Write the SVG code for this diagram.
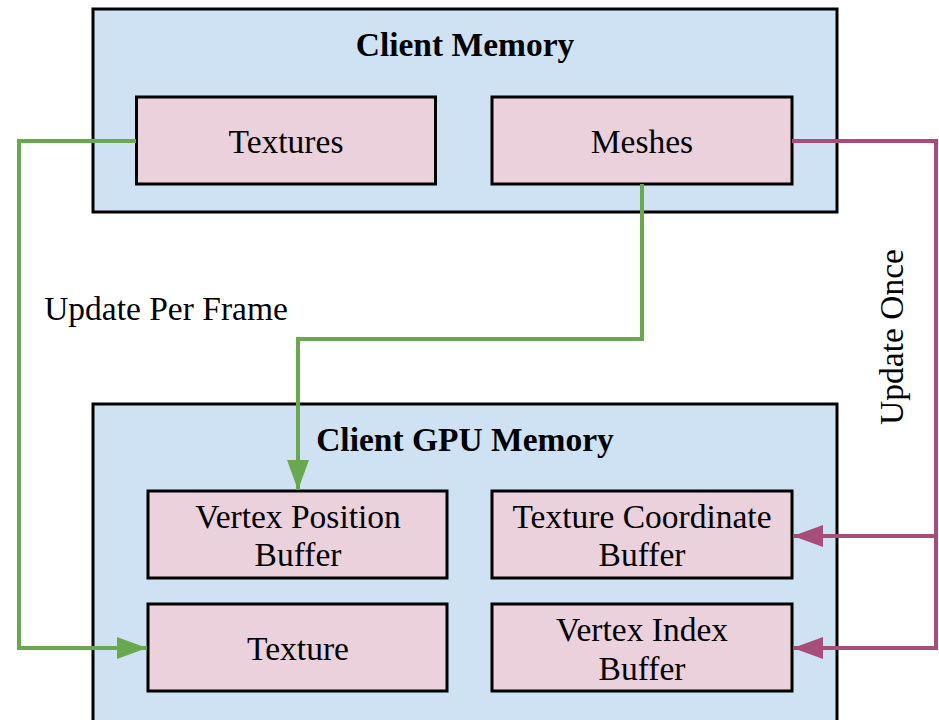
<svg xmlns="http://www.w3.org/2000/svg" width="939" height="720" viewBox="0 0 939 720">
<style>
.outer{fill:#cfe2f3;stroke:#000;stroke-width:3}
.inner{fill:#ead1dc;stroke:#000;stroke-width:3}
text{font-family:"Liberation Serif","Times New Roman",serif;font-size:33.5px;fill:#000;text-anchor:middle}
.b{font-weight:bold}
.g{fill:none;stroke:#6aa84f;stroke-width:4}
.p{fill:none;stroke:#a64d79;stroke-width:4}
</style>
<defs>
<marker id="ag" markerUnits="userSpaceOnUse" markerWidth="32" markerHeight="24" refX="30" refY="11" orient="auto" viewBox="0 0 32 22"><path d="M0,0 L30,11 L0,22 Z" fill="#6aa84f"/></marker>
<marker id="ap" markerUnits="userSpaceOnUse" markerWidth="32" markerHeight="24" refX="30" refY="11" orient="auto" viewBox="0 0 32 22"><path d="M0,0 L30,11 L0,22 Z" fill="#a64d79"/></marker>
</defs>
<g id="client-memory">
<rect class="outer" x="93" y="9" width="744" height="203"/>
<text class="b" x="465" y="56">Client Memory</text>
</g>
<g id="textures">
<rect class="inner" x="136.5" y="97" width="299" height="87"/>
<text x="286" y="153">Textures</text>
</g>
<g id="meshes">
<rect class="inner" x="492" y="97" width="300" height="87"/>
<text x="642" y="153">Meshes</text>
</g>
<g id="client-gpu-memory">
<rect class="outer" x="93" y="404" width="744" height="330"/>
<text class="b" x="465" y="451">Client GPU Memory</text>
</g>
<g id="vertex-position-buffer">
<rect class="inner" x="148" y="491" width="299" height="87"/>
<text x="298" y="528">Vertex Position</text>
<text x="298" y="566">Buffer</text>
</g>
<g id="texture-coordinate-buffer">
<rect class="inner" x="492" y="491" width="300" height="87"/>
<text x="642" y="528">Texture Coordinate</text>
<text x="642" y="566">Buffer</text>
</g>
<g id="texture">
<rect class="inner" x="148" y="604" width="299" height="87"/>
<text x="298" y="660">Texture</text>
</g>
<g id="vertex-index-buffer">
<rect class="inner" x="492" y="604" width="300" height="87"/>
<text x="642" y="641">Vertex Index</text>
<text x="642" y="680">Buffer</text>
</g>
<g id="connectors">
<polyline class="g" points="136,141 19,141 19,648 147,648" marker-end="url(#ag)"/>
<polyline class="g" points="642,184 642,339 298,339 298,490" marker-end="url(#ag)"/>
<polyline class="p" points="792,141 936,141 936,648 793,648" marker-end="url(#ap)"/>
<polyline class="p" points="936,536 793,536" marker-end="url(#ap)"/>
<text x="166" y="320">Update Per Frame</text>
<text transform="translate(903,337) rotate(-90)">Update Once</text>
</g>
</svg>
